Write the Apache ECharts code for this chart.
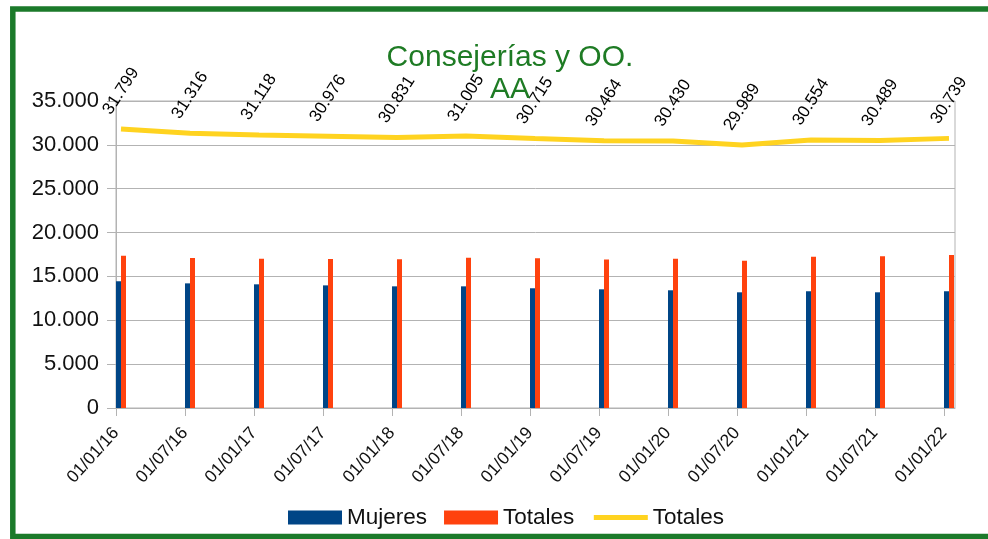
<!DOCTYPE html>
<html>
<head>
<meta charset="utf-8">
<script src="https://cdn.jsdelivr.net/npm/echarts@6/dist/echarts.min.js"></script>
<style>
html,body{margin:0;padding:0;background:#fff;}
#c{width:988px;height:539px;}
</style>
</head>
<body>
<div id="c"></div>
<script>
var categories = ['01/01/16','01/07/16','01/01/17','01/07/17','01/01/18','01/07/18','01/01/19','01/07/19','01/01/20','01/07/20','01/01/21','01/07/21','01/01/22'];
var mujeres = [14450,14210,14100,13980,13870,13870,13650,13530,13420,13190,13310,13190,13310];
var totalesBar = [17349,17106,17018,16996,16961,17135,17065,16934,17010,16799,17244,17299,17429];
var totalesLine = [31799,31316,31118,30976,30831,31005,30715,30464,30430,29989,30554,30489,30739];
var yTicks = {min:0, max:35000, interval:5000};

function fmt(v){ return String(v).replace(/\B(?=(\d{3})+(?!\d))/g,'.'); }
function pairs(arr){ return arr.map(function(v,i){ return [i, v]; }); }

var FONT = 'Liberation Sans, Arial, sans-serif';
var chart = echarts.init(document.getElementById('c'), null, {renderer:'canvas'});
chart.setOption({
  animation:false,
  backgroundColor:'#ffffff',
  title:{
    text:'Consejerías y OO.\nAA',
    left:505, top:37, textAlign:'center',
    textStyle:{color:'#1e7b24', fontFamily:FONT, fontSize:30, fontWeight:'normal', lineHeight:32}
  },
  legend:{
    left:288, top:506, padding:0, itemWidth:54, itemHeight:14, itemGap:17,
    textStyle:{color:'#111', fontFamily:FONT, fontSize:22.5},
    data:[{name:'Mujeres', icon:'rect'},{name:'Totales', icon:'rect'},
          {name:'Totales ', itemStyle:{opacity:0}, lineStyle:{width:5, color:'#ffd320'}}]
  },
  graphic:[{
    type:'rect', z:100, silent:true,
    shape:{x:12.8, y:9, width:990, height:527.5},
    style:{fill:'none', stroke:'#1b7a2a', lineWidth:5.5}
  }],
  grid:[
    {left:116, right:33, top:101, bottom:131, show:true, borderColor:'#b3b3b3', borderWidth:1, backgroundColor:'transparent'},
    {left:116, right:44, top:101, bottom:131}
  ],
  xAxis:[
    {type:'value', gridIndex:0, min:-5/69, max:834/69,
     axisLine:{show:true, onZero:false, lineStyle:{color:'#b3b3b3', width:1}},
     axisTick:{show:false}, axisLabel:{show:false}, splitLine:{show:false}},
    {type:'category', gridIndex:1, data:categories, boundaryGap:false,
     axisLine:{show:false},
     axisTick:{show:true, length:8, alignWithLabel:true, lineStyle:{color:'#b3b3b3'}},
     axisLabel:{rotate:48, margin:22, fontSize:17.5, color:'#111', fontFamily:FONT, interval:0},
     splitLine:{show:false}}
  ],
  yAxis:[
    {type:'value', gridIndex:0, min:yTicks.min, max:yTicks.max, interval:yTicks.interval,
     axisLine:{show:true, onZero:false, lineStyle:{color:'#b3b3b3'}},
     axisTick:{show:true, length:9, lineStyle:{color:'#b3b3b3'}},
     axisLabel:{fontSize:22, color:'#111', fontFamily:FONT, margin:17, formatter:function(v){return fmt(v);}},
     splitLine:{show:true, lineStyle:{color:'#b3b3b3', width:1}}},
    {type:'value', gridIndex:1, min:0, max:35000, show:false}
  ],
  series:[
    {name:'Mujeres', type:'bar', xAxisIndex:0, yAxisIndex:0, data:pairs(mujeres),
     barWidth:5, barGap:'0%', itemStyle:{color:'#004586'}},
    {name:'Totales', type:'bar', xAxisIndex:0, yAxisIndex:0, data:pairs(totalesBar),
     barWidth:5, barGap:'0%', itemStyle:{color:'#ff420e'}},
    {name:'Totales ', type:'line', xAxisIndex:0, yAxisIndex:0, data:pairs(totalesLine),
     symbol:'circle', symbolSize:2, showSymbol:true, showAllSymbol:true,
     lineStyle:{color:'#ffd320', width:5}, itemStyle:{color:'rgba(255,211,32,0)'},
     label:{show:true, position:'top', distance:37, rotate:57, align:'center', verticalAlign:'middle',
       fontSize:17, color:'#000', fontFamily:FONT,
       formatter:function(p){return fmt(p.value[1]);}}}
  ]
});
</script>
</body>
</html>
